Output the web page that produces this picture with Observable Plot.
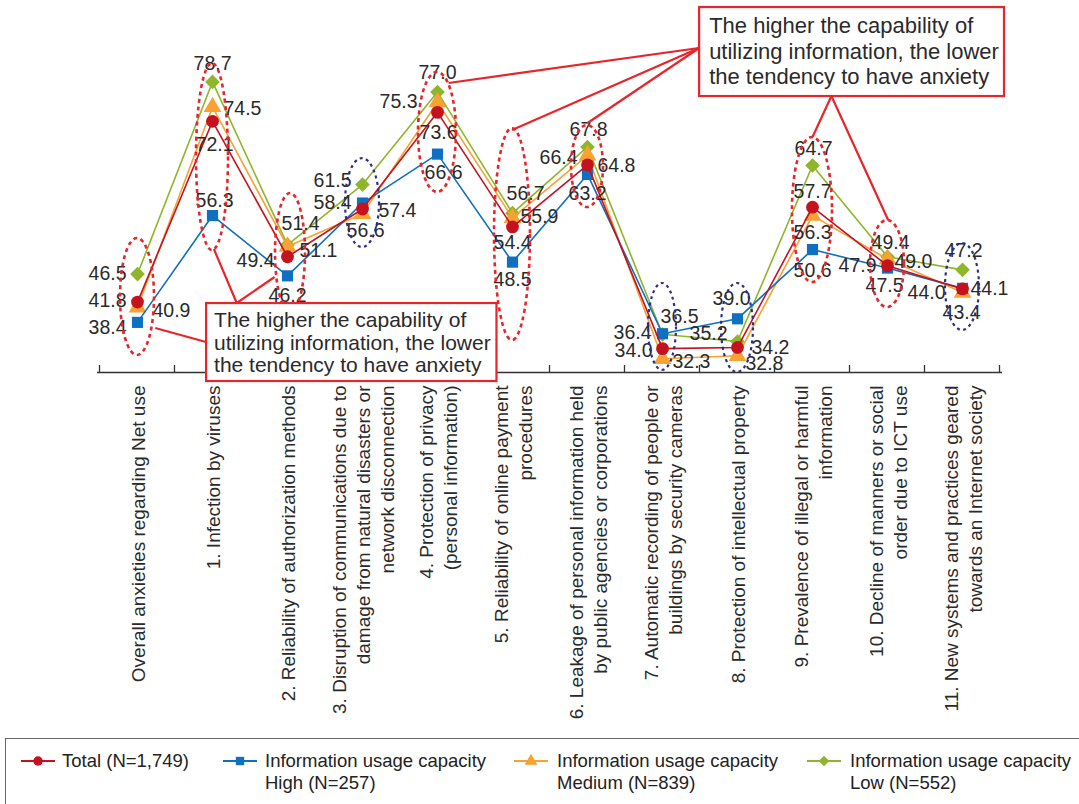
<!DOCTYPE html>
<html><head><meta charset="utf-8">
<script src="https://cdn.jsdelivr.net/npm/d3@7"></script>
<script src="https://cdn.jsdelivr.net/npm/@observablehq/plot@0.6"></script>
<style>
body{margin:0;background:#fff;font-family:"Liberation Sans",Arial,sans-serif;}
svg{display:block;}
</style></head><body><div id="chart"></div><div id="legend"></div>
<script>
// ---------- DATA ----------
const categories = [
  "Overall anxieties regarding Net use",
  "1. Infection by viruses",
  "2. Reliability of authorization methods",
  "3. Disruption of communications due to\ndamage from natural disasters or\nnetwork disconnection",
  "4. Protection of privacy\n(personal information)",
  "5. Reliability of online payment\nprocedures",
  "6. Leakage of personal information held\nby public agencies or corporations",
  "7. Automatic recording of people or\nbuildings by security cameras",
  "8. Protection of intellectual property",
  "9. Prevalence of illegal or harmful\ninformation",
  "10. Decline of manners or social\norder due to ICT use",
  "11. New systems and practices geared\ntowards an Internet society"
];
const seriesLabels = ["Total (N=1,749)", "Information usage capacity\nHigh (N=257)", "Information usage capacity\nMedium (N=839)", "Information usage capacity\nLow (N=552)"];
const total  = [41.8, 72.1, 49.4, 57.4, 73.6, 54.4, 64.8, 34.0, 34.2, 57.7, 47.9, 44.0];
const high   = [38.4, 56.3, 46.2, 58.4, 66.6, 48.5, 63.2, 36.5, 39.0, 50.6, 47.5, 44.1];
const medium = [40.9, 74.5, 51.1, 56.6, 75.3, 55.9, 66.4, 32.3, 32.8, 56.3, 49.0, 43.4];
const low    = [46.5, 78.7, 51.4, 61.5, 77.0, 56.7, 67.8, 36.4, 35.2, 64.7, 49.4, 47.2];
const noteText = ["The higher the capability of", "utilizing information, the lower", "the tendency to have anxiety"];

// ---------- LAYOUT (label placement: [anchor, dx, dy]) ----------
const offTotal = [["e",-11,-1],["m",2,23],["e",-13,4],["s",16,2],["m",1,20],["m",0,16],["s",10,1],["e",-10,2],["s",14,0],["m",0,-15],["e",-11,0],["e",-17,4]];
const offHigh = [["e",-11,5],["m",2,-15],["m",0,20],["e",-11,0],["m",6,19],["m",0,18],["m",0,19],["m",17,-17],["m",-6,-20],["m",0,21],["m",-3,18],["s",8,0]];
const offMedium = [["s",15,3],["s",11,2],["s",12,4],["m",3,17],["e",-20,0],["s",8,-1],["e",-10,2],["s",10,3],["s",8,8],["m",0,17],["s",7,3],["m",-1,20]];
const offLow = [["e",-11,0],["m",0,-18],["m",13,-21],["e",-11,-4],["m",0,-19],["m",13,-19],["m",1,-17],["e",-11,-2],["e",-10,-8],["m",1,-17],["m",3,-14],["m",1,-19]];

// annotation ellipses: category position, value range, half width, colour
const ellipses = [
  {c:0, top:52.46, bottom:32.85, rx:17, col:"r"},
  {c:1, top:81.78, bottom:50.45, rx:16, col:"r"},
  {c:2.04, top:60.0, bottom:40.06, rx:15, col:"r"},
  {c:3, top:65.86, bottom:50.95, rx:17, col:"b"},
  {c:4, top:80.28, bottom:60.17, rx:19, col:"r"},
  {c:5, top:70.89, bottom:35.36, rx:18, col:"r"},
  {c:6, top:71.4, bottom:57.65, rx:16, col:"r"},
  {c:7, top:44.92, bottom:30.34, rx:14, col:"b"},
  {c:8, top:44.92, bottom:30.0, rx:16, col:"b"},
  {c:9, top:69.38, bottom:45.08, rx:20, col:"r"},
  {c:10, top:55.47, bottom:40.89, rx:17, col:"r"},
  {c:11, top:51.62, bottom:37.04, rx:17, col:"b"}
];
const connectors = [
  [[7.495,84.30],[4.154,78.43]], [[7.495,84.30],[5.0,70.56]], [[7.495,84.30],[6.008,71.73]],
  [[9.259,76.25],[9.007,69.38]], [[9.259,76.25],[10.015,55.47]],
  [[0.243,37.37],[0.921,35.03]], [[1.025,50.61],[1.330,41.56]], [[1.834,45.92],[1.330,41.56]]
];
const boxes = [
  {c0:7.495, c1:11.56, v0:91.17, v1:76.25, fs:22, base:26, gap:25.5, pad:10},
  {c0:0.921, c1:4.793, v0:41.56, v1:28.49, fs:21, base:24, gap:22.5, pad:8}
];

const RED = "#e8252b", NAVY = "#2b2e8c";
const series = [
  {name: seriesLabels[3], values: low, color: "#8fb52a", symbol: "diamond2", r: 6.6, off: offLow},
  {name: seriesLabels[2], values: medium, color: "#f7a233", symbol: "triangle", r: 6.6, off: offMedium},
  {name: seriesLabels[1], values: high, color: "#0f6fc0", symbol: "square", r: 6.3, off: offHigh},
  {name: seriesLabels[0], values: total, color: "#c4121f", symbol: "circle", r: 6.4, off: offTotal}
];

const marks = [Plot.ruleY([30], {stroke: "#333", strokeWidth: 1.5})];
for (const s of series) {
  const rows = categories.map((c, i) => ({cat: c, v: s.values[i], i}));
  marks.push(Plot.line(rows, {x: "cat", y: "v", stroke: s.color, strokeWidth: 1.6}));
  marks.push(Plot.dot(rows, {x: "cat", y: "v", symbol: () => s.symbol, r: s.r, fill: s.color, stroke: "none"}));
}
for (const s of series) {
  categories.forEach((c, i) => {
    const [a, dx, dy] = s.off[i];
    marks.push(Plot.text([{cat: c, v: s.values[i]}], {
      x: "cat", y: "v", text: d => d.v.toFixed(1), dx, dy,
      textAnchor: a === "e" ? "end" : a === "s" ? "start" : "middle",
      fontSize: 19.5, fill: "#2a2a2a"
    }));
  });
}
marks.push(Plot.text(categories, {
  x: d => d, frameAnchor: "bottom", dy: 13, text: d => d, rotate: -90,
  textAnchor: "end", lineAnchor: "middle", lineHeight: 1.24, fontSize: 19, fill: "#2a2a2a"
}));

const chart = Plot.plot({
  width: 1079, height: 737,
  marginLeft: 97, marginRight: 77, marginTop: 14, marginBottom: 365,
  style: {fontFamily: '"Liberation Sans", Arial, sans-serif', background: "#fff"},
  x: {type: "point", domain: categories, padding: 0.5, axis: null},
  y: {domain: [30, 90], axis: null},
  symbol: {type: "identity"},
  marks
});
document.getElementById("chart").append(chart);

// ---------- annotations placed through the plot's scales ----------
const svg = d3.select(chart);
const xs = chart.scale("x"), ys = chart.scale("y");
const x0 = xs.apply(categories[0]);
const step = xs.apply(categories[1]) - x0;
const X = c => x0 + c * step, Y = v => ys.apply(v);
const g = svg.append("g").attr("text-anchor", "start");
// category boundary ticks
d3.range(categories.length + 1).forEach(i => {
  g.append("line").attr("x1", X(i - 0.5)).attr("x2", X(i - 0.5))
    .attr("y1", Y(30)).attr("y2", Y(30) - 7).attr("stroke", "#333").attr("stroke-width", 1.3);
});
// ellipses
ellipses.forEach(e => {
  const cy = (Y(e.top) + Y(e.bottom)) / 2, ry = (Y(e.bottom) - Y(e.top)) / 2;
  g.append("ellipse").attr("cx", X(e.c)).attr("cy", cy).attr("rx", e.rx).attr("ry", ry)
    .attr("fill", "none").attr("stroke", e.col === "r" ? RED : NAVY)
    .attr("stroke-width", e.col === "r" ? 2.6 : 2.2)
    .attr("stroke-dasharray", e.col === "r" ? "4,3.5" : "3,3.5");
});
// connectors
connectors.forEach(([[c1, v1], [c2, v2]]) => {
  g.append("line").attr("x1", X(c1)).attr("y1", Y(v1)).attr("x2", X(c2)).attr("y2", Y(v2))
    .attr("stroke", RED).attr("stroke-width", 2.2);
});
// note boxes
boxes.forEach(b => {
  const x1 = X(b.c0), x2 = X(b.c1), y1 = Y(b.v0), y2 = Y(b.v1);
  g.append("rect").attr("x", x1).attr("y", y1).attr("width", x2 - x1).attr("height", y2 - y1)
    .attr("fill", "#fff").attr("stroke", RED).attr("stroke-width", 2.2);
  noteText.forEach((t, k) => {
    g.append("text").attr("x", x1 + b.pad).attr("y", y1 + b.base + k * b.gap)
      .attr("text-anchor", "start")
      .attr("font-size", b.fs).attr("fill", "#2a2a2a").text(t);
  });
});

// ---------- legend ----------
const legendOrder = [3, 2, 1, 0];
const lx = [38, 240, 531, 824], tx = [62, 265, 557, 850];
const leg = d3.select("#legend").append("svg").attr("width", 1079).attr("height", 67)
  .style("font-family", '"Liberation Sans", Arial, sans-serif');
leg.append("rect").attr("x", 5.5).attr("y", 1.5).attr("width", 1090).attr("height", 70)
  .attr("fill", "none").attr("stroke", "#666").attr("stroke-width", 1);
const symMap = {circle: d3.symbolCircle, square: d3.symbolSquare, triangle: d3.symbolTriangle, diamond2: d3.symbolDiamond2};
legendOrder.forEach((si, k) => {
  const s = series[si];
  leg.append("line").attr("x1", lx[k] - 17).attr("x2", lx[k] + 17).attr("y1", 24).attr("y2", 24)
    .attr("stroke", s.color).attr("stroke-width", 2);
  leg.append("path").attr("transform", `translate(${lx[k]},24)`)
    .attr("d", d3.symbol(symMap[s.symbol], 70)()).attr("fill", s.color);
  s.name.split("\n").forEach((t, j) => {
    leg.append("text").attr("x", tx[k]).attr("y", 30 + j * 22).attr("font-size", 18.5)
      .attr("fill", "#222").text(t);
  });
});
</script></body></html>
